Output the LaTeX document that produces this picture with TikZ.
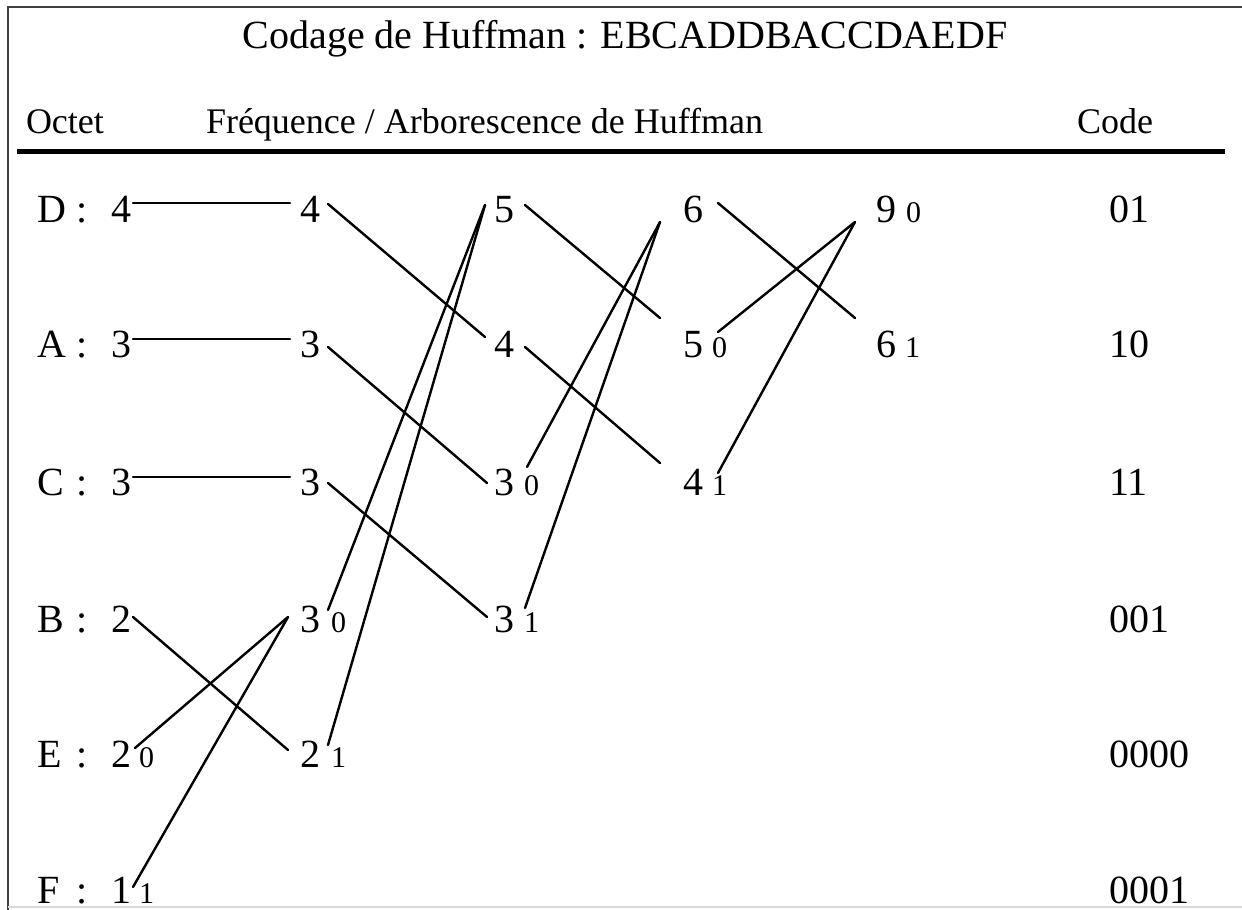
\documentclass[tikz,border=0pt]{standalone}
\usepackage{fontspec}
\setmainfont{Liberation Serif}
\usetikzlibrary{calc}
\begin{document}
\begin{tikzpicture}[x=0.5pt,y=-0.5pt,
  txt/.style={inner sep=0pt, outer sep=0pt, anchor=base west, font=\fontsize{20}{24}\selectfont},
  ttl/.style={inner sep=0pt, outer sep=0pt, anchor=base, font=\fontsize{20}{24}\selectfont},
  hdr/.style={inner sep=0pt, outer sep=0pt, anchor=base west, font=\fontsize{18}{22}\selectfont},
  bit/.style={inner sep=0pt, outer sep=0pt, anchor=base west, font=\fontsize{15}{18}\selectfont},
  link/.style={line width=1.2pt, line cap=round},
  frameline/.style={line width=1pt, draw=black!75},
  rule/.style={line width=2.5pt}]
\useasboundingbox (0,0) rectangle (1242,910);
% frame
\draw[frameline] (8,910) -- (8,7) -- (1242,7);
\draw[gray!30, line width=0.8pt] (8,907) -- (1242,907);
% title and headers
\node[ttl] (title) at (625,48) {Codage de Huffman : EBCADDBACCDAEDF};
\node[hdr] (hOct) at (26,133) {Octet};
\node[hdr] (hFreq) at (206,133) {Fréquence / Arborescence de Huffman};
\node[hdr] (hCode) at (1077,133) {Code};
\draw[rule] (17,151) -- (1225,151);
% letters and colons
\node[txt] (lD) at (37,222) {D}; \node[txt] (kD) at (76,222) {:};
\node[txt] (lA) at (37,357) {A}; \node[txt] (kA) at (76,357) {:};
\node[txt] (lC) at (37,495) {C}; \node[txt] (kC) at (76,495) {:};
\node[txt] (lB) at (37,632) {B}; \node[txt] (kB) at (76,632) {:};
\node[txt] (lE) at (37,767) {E}; \node[txt] (kE) at (76,767) {:};
\node[txt] (lF) at (37,903) {F}; \node[txt] (kF) at (76,903) {:};
% column 0
\node[txt] (D0) at (111,222) {4};
\node[txt] (A0) at (111,357) {3};
\node[txt] (C0) at (111,495) {3};
\node[txt] (B0) at (111,632) {2};
\node[txt] (E0) at (111,767) {2};
\node[txt] (F0) at (111,903) {1};
\node[bit] (bE0) at (139,767) {0};
\node[bit] (bF0) at (139,903) {1};
% column 1
\node[txt] (D1) at (300,222) {4};
\node[txt] (A1) at (300,357) {3};
\node[txt] (C1) at (300,495) {3};
\node[txt] (B1) at (300,632) {3};
\node[txt] (E1) at (300,767) {2};
\node[bit] (bB1) at (331,632) {0};
\node[bit] (bE1) at (331,767) {1};
% column 2
\node[txt] (D2) at (494,222) {5};
\node[txt] (A2) at (494,357) {4};
\node[txt] (C2) at (494,495) {3};
\node[txt] (B2) at (494,632) {3};
\node[bit] (bC2) at (524,495) {0};
\node[bit] (bB2) at (524,632) {1};
% column 3
\node[txt] (D3) at (683,222) {6};
\node[txt] (A3) at (683,357) {5};
\node[txt] (C3) at (683,495) {4};
\node[bit] (bA3) at (712,357) {0};
\node[bit] (bC3) at (712,495) {1};
% column 4
\node[txt] (D4) at (876,222) {9};
\node[txt] (A4) at (876,357) {6};
\node[bit] (bD4) at (906,222) {0};
\node[bit] (bA4) at (905,357) {1};
% codes
\node[txt] (cD) at (1109,222) {01};
\node[txt] (cA) at (1109,357) {10};
\node[txt] (cC) at (1109,495) {11};
\node[txt] (cB) at (1109,632) {001};
\node[txt] (cE) at (1109,767) {0000};
\node[txt] (cF) at (1109,903) {0001};
% connectors col0 -> col1
\draw[link] ($(D0.base east)+(2,-19)$) -- ($(D1.base west)+(-10,-19)$);
\draw[link] ($(A0.base east)+(2,-18)$) -- ($(A1.base west)+(-10,-18)$);
\draw[link] ($(C0.base east)+(2,-18)$) -- ($(C1.base west)+(-10,-18)$);
\draw[link] ($(B0.base east)+(2,-15)$) -- ($(E1.base west)+(-12,-17)$);
\draw[link] ($(E0.base east)+(4,-19)$) -- ($(B1.base west)+(-12,-15)$);
\draw[link] ($(F0.base east)+(2,-16)$) -- ($(B1.base west)+(-12,-15)$);
% col1 -> col2
\draw[link] ($(D1.base east)+(8,-18)$) -- ($(A2.base west)+(-9,-20)$);
\draw[link] ($(A1.base east)+(8,-10)$) -- ($(C2.base west)+(-7,-12)$);
\draw[link] ($(C1.base east)+(8,-12)$) -- ($(B2.base west)+(-7,-15)$);
\draw[link] ($(B1.base east)+(8,-22)$) -- ($(D2.base west)+(-9,-17)$);
\draw[link] ($(E1.base east)+(8,-22)$) -- ($(D2.base west)+(-9,-17)$);
% col2 -> col3
\draw[link] ($(D2.base east)+(11,-17)$) -- ($(A3.base west)+(-23,-39)$);
\draw[link] ($(A2.base east)+(11,-10)$) -- ($(C3.base west)+(-23,-32)$);
\draw[link] ($(C2.base east)+(13,-28)$) -- ($(D3.base west)+(-23,0)$);
\draw[link] ($(B2.base east)+(11,-24)$) -- ($(D3.base west)+(-23,0)$);
% col3 -> col4
\draw[link] ($(D3.base east)+(15,-19)$) -- ($(A4.base west)+(-21,-39)$);
\draw[link] ($(A3.base east)+(15,-25)$) -- ($(D4.base west)+(-21,0)$);
\draw[link] ($(C3.base east)+(15,-22)$) -- ($(D4.base west)+(-21,0)$);
\end{tikzpicture}
\end{document}
